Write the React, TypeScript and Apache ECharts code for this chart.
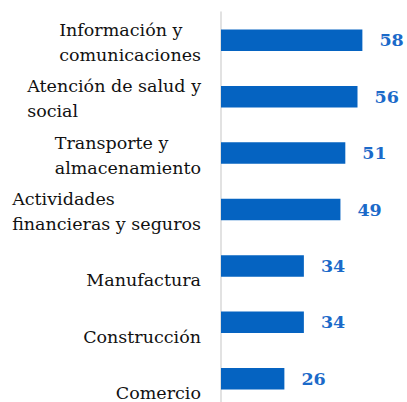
import React, { useEffect, useRef } from "react";
import * as echarts from "echarts";

const categories: string[] = [
  "Información y\ncomunicaciones",
  "Atención de salud y\nsocial",
  "Transporte y\nalmacenamiento",
  "Actividades\nfinancieras y seguros",
  "Manufactura",
  "Construcción",
  "Comercio",
];
const values: number[] = [58, 56, 51, 49, 34, 34, 26];

const FONT = "'DejaVu Serif', serif";

export default function App() {
  const ref = useRef<HTMLDivElement>(null);
  useEffect(() => {
    if (!ref.current) return;
    const chart = echarts.init(ref.current, null, { renderer: "svg" });
    chart.setOption({
      animation: false,
      backgroundColor: "#ffffff",
      grid: {
        left: 221,
        top: 12,
        width: 195,
        height: 395,
        containLabel: false,
        outerBoundsMode: "none",
      },
      xAxis: {
        type: "value",
        min: 0,
        max: 80,
        show: false,
        splitLine: { show: false },
      },
      yAxis: {
        type: "category",
        data: categories,
        inverse: true,
        axisTick: { show: false },
        axisLine: { show: true, lineStyle: { color: "#d9d9d9", width: 1.5 } },
        axisLabel: {
          margin: 20,
          align: "right",
          padding: [4, 0, 0, 0],
          formatter: (v: string) => {
            let lines = v.split("\n");
            if (lines.length === 1) lines = [" ", lines[0]];
            return lines.map((l) => `{a|${l}}`).join("\n");
          },
          rich: {
            a: {
              fontFamily: FONT,
              fontSize: 17.5,
              lineHeight: 25,
              color: "#111111",
              align: "left",
            },
          },
        },
      },
      series: [
        {
          type: "bar",
          data: values,
          barWidth: 21.5,
          itemStyle: { color: "#0563C1" },
          label: {
            show: true,
            position: "right",
            distance: 17,
            fontFamily: FONT,
            fontWeight: "bold",
            fontSize: 17.5,
            color: "#1B6AC9",
          },
        },
      ],
    });
    return () => chart.dispose();
  }, []);
  return (
    <div
      ref={ref}
      style={{ position: "fixed", left: 0, top: 0, width: 407, height: 402 }}
    />
  );
}
